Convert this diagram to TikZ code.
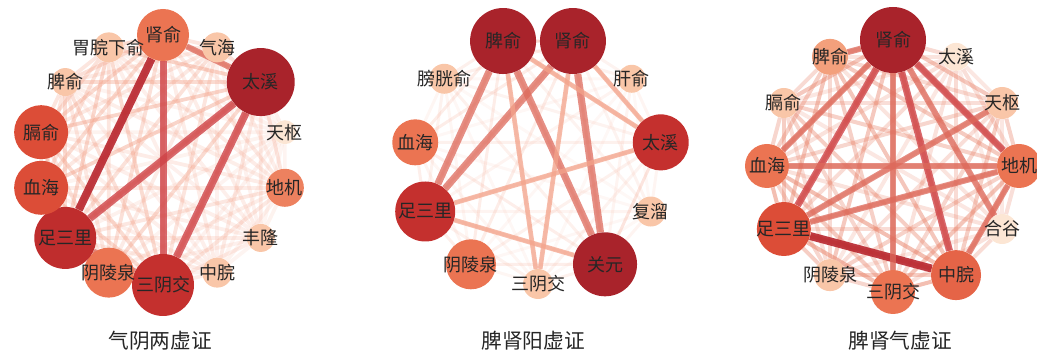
\documentclass[tikz,border=0pt]{standalone}
\usepackage{fontspec}
\setmainfont{Noto Sans CJK SC}
\usepackage{tikz}
\usetikzlibrary{backgrounds}
\pgfdeclarelayer{front}
\pgfsetlayers{background,main,front}
\definecolor{cA}{HTML}{FCE6D4}
\definecolor{cB}{HTML}{F9C6A8}
\definecolor{cC}{HTML}{F3A07C}
\definecolor{cD}{HTML}{EB7452}
\definecolor{cE}{HTML}{DC4D37}
\definecolor{cF}{HTML}{C4302E}
\definecolor{cG}{HTML}{A9232B}
\definecolor{lkA}{HTML}{F3A48C}
\definecolor{lkB}{HTML}{E98870}
\tikzset{
    acu/.style={circle,inner sep=0pt,minimum size=#1*1.5pt},
    acutext/.style={font=\fontsize{13.5}{13.5}\selectfont,text=black!85,inner sep=0pt},
    mesh/.style={line width=2.25pt,color=#1},
    e1/.style={line width=3.5pt,color=lkA,opacity=.75},
    e2/.style={line width=4.5pt,color={rgb,255:red,221;green,106;blue,92},opacity=.75},
    e2b/.style={e2,line width=5.4pt},
    e3/.style={line width=5.25pt,color={rgb,255:red,207;green,68;blue,72},opacity=.8},
    e3b/.style={e3,line width=5.7pt},
    e4/.style={line width=6pt,color={rgb,255:red,184;green,38;blue,46},opacity=.9},
    caption/.style={font=\fontsize{15.5}{15.5}\selectfont,text=black!85},
}
% node weights used for the background mesh
\def\wA{{0.8,0.4,1,0.1,0.3,0.2,0.2,0.8,0.5,0.9,0.6,0.6,0.5,0.6}}
\def\wB{{1,1,0.2,0.7,0.2,0.9,0.3,0.4,0.8,0.4,0.3}}
\def\wC{{1,0.3,0.5,0.8,0.3,0.9,0.7,0.5,0.9,0.7,0.5,0.6}}

\begin{document}
\begin{tikzpicture}[x=0.75pt,y=0.75pt]
\useasboundingbox (0,0) rectangle (1037,359);

% 气阴两虚证
\begin{scope}[shift={(163,199)}]
    \foreach \i/\r/\col/\lab in {0/26/cD/肾俞,1/15/cB/气海,2/34/cG/太溪,3/12/cA/天枢,
        4/19/cD!70!cC/地机,5/14/cB/丰隆,6/15/cB/中脘,7/31/cF/三阴交,8/25/cD/阴陵泉,
        9/31/cF!80!cG/足三里,10/27/cE/血海,11/27/cE/膈俞,12/14/cB/脾俞,13/15/cB/胃脘下俞}{
        \node[acu=\r,fill=\col] (a\i) at ({90-360/14*\i}:125) {};
        \begin{pgfonlayer}{front}
            \node[acutext] (ta\i) at (a\i) {\lab};
        \end{pgfonlayer}
    }
    \begin{pgfonlayer}{background}
        \foreach \i in {0,...,13}{
            \foreach \j in {0,...,13}{
                \ifnum\i<\j
                    \pgfmathsetmacro\s{0.6*\wA[\i]*\wA[\j]+0.1}
                    \draw[mesh=lkA,line width=2.8pt,opacity=\s] (a\i) -- (a\j);
                \fi
            }
        }
        \foreach \p/\q/\st in {0/9/e4,2/9/e3b,0/7/e3,2/7/e3b,9/7/e2,0/2/e2}
            \draw[\st] (a\p) -- (a\q);
    \end{pgfonlayer}
\end{scope}
\node[caption] (capA) at (160,18) {气阴两虚证};

% 脾肾阳虚证
\begin{scope}[shift={(538,199)}]
    \foreach \i/\r/\col/\lab in {0/33/cG/脾俞,1/33/cG/肾俞,2/14/cB/肝俞,3/28/cF/太溪,
        4/15/cB/复溜,5/32/cG/关元,6/15/cB/三阴交,7/25/cD/阴陵泉,8/30/cF/足三里,
        9/23/cD/血海,10/15/cB/膀胱俞}{
        \node[acu=\r,fill=\col] (b\i) at ({106.36-360/11*\i}:124) {};
        \begin{pgfonlayer}{front}
            \node[acutext] (tb\i) at (b\i) {\lab};
        \end{pgfonlayer}
    }
    \begin{pgfonlayer}{background}
        \foreach \i in {0,...,10}{
            \foreach \j in {0,...,10}{
                \ifnum\i<\j
                    \pgfmathsetmacro\s{0.35*\wB[\i]*\wB[\j]+0.06}
                    \draw[mesh=lkA,opacity=\s] (b\i) -- (b\j);
                \fi
            }
        }
        \foreach \p/\q/\st in {1/8/e2b,0/8/e2b,0/5/e2b,1/5/e2b,0/3/e1,1/3/e1,3/8/e1,8/5/e1,0/6/e1,1/6/e1}
            \draw[\st] (b\p) -- (b\q);
    \end{pgfonlayer}
\end{scope}
\node[caption] (capB) at (533,18) {脾肾阳虚证};

% 脾肾气虚证
\begin{scope}[shift={(893,193)}]
    \foreach \i/\r/\col/\lab in {0/33/cG/肾俞,1/14/cA/太溪,2/16/cB/天枢,3/22/cD/地机,
        4/15/cA/合谷,5/25/cD!60!cE/中脘,6/22/cD/三阴交,7/16/cB/阴陵泉,8/27/cE/足三里,
        9/22/cD/血海,10/15/cB/膈俞,11/18/cC/脾俞}{
        \node[acu=\r,fill=\col] (c\i) at ({90-30*\i}:126) {};
        \begin{pgfonlayer}{front}
            \node[acutext] (tc\i) at (c\i) {\lab};
        \end{pgfonlayer}
    }
    \begin{pgfonlayer}{background}
        \foreach \i in {0,...,11}{
            \foreach \j in {0,...,11}{
                \ifnum\i<\j
                    \pgfmathsetmacro\s{0.7*\wC[\i]*\wC[\j]+0.1}
                    \draw[mesh=lkB,line width=3pt,opacity=\s] (c\i) -- (c\j);
                \fi
            }
        }
        \foreach \p/\q/\st in {8/5/e4,0/8/e3,0/5/e3,0/3/e3,0/9/e2,0/6/e2,8/3/e2,3/5/e2,
            9/3/e2,8/2/e2,0/11/e2,0/4/e2}
            \draw[\st] (c\p) -- (c\q);
    \end{pgfonlayer}
\end{scope}
\node[caption] (capC) at (900,18) {脾肾气虚证};
\end{tikzpicture}
\end{document}
